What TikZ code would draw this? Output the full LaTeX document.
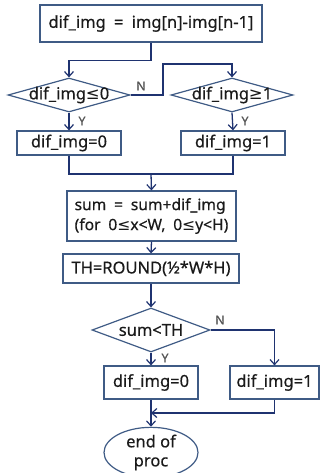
\documentclass[tikz,border=0pt]{standalone}
\usepackage{fontspec}
\setmainfont{Noto Sans}[FakeBold=0.5]
\newfontfamily\symf{DejaVu Sans}
\newcommand{\myle}{{\symf ≤}}
\newcommand{\myge}{{\symf ≥}}
\usetikzlibrary{shapes.geometric,arrows.meta}
\definecolor{boxc}{HTML}{3F5B85}
\definecolor{arrc}{HTML}{1F3370}
\definecolor{txtc}{HTML}{1A1A1A}
\definecolor{lblc}{HTML}{555555}
\begin{document}
\begin{tikzpicture}[x=1pt,y=-1pt,
  font=\fontsize{16.5}{19}\selectfont, text=txtc,
  rbox/.style={draw=boxc,line width=1.2pt,rectangle,inner sep=0pt},
  dbox/.style={draw=boxc,line width=1.2pt,diamond,inner sep=0pt},
  ebox/.style={draw=boxc,line width=1.2pt,ellipse,inner sep=0pt},
  con/.style={draw=arrc,line width=1.3pt},
  arr/.style={con,-{Straight Barb[length=5pt,width=9pt,line width=1.2pt]}},
  lbl/.style={text=lblc,font=\fontsize{12.5}{13}\selectfont,inner sep=1pt}]
\useasboundingbox (0,0) rectangle (320,473);
\node[rbox,minimum width=222pt,minimum height=37pt] (b1) at (151,23.5) {dif\_img\enspace=\enspace img[n]-img[n-1]};
\node[dbox,minimum width=122pt,minimum height=34pt,label={center:dif\_img\myle0}] (d1) at (69,95) {};
\node[dbox,minimum width=122pt,minimum height=34pt,label={center:dif\_img\myge1}] (d2) at (232,95) {};
\node[rbox,minimum width=104pt,minimum height=24pt] (b2) at (69,143) {dif\_img=0};
\node[rbox,minimum width=104pt,minimum height=24pt] (b3) at (233,143) {dif\_img=1};
\node[rbox,minimum width=169pt,minimum height=50pt,align=left,font=\fontsize{15.6}{20}\selectfont] (b4) at (151.5,216) {sum\enspace=\enspace sum+dif\_img\\(for\enspace0\myle x<W,\enspace0\myle y<H)};
\node[rbox,minimum width=176pt,minimum height=29pt] (b5) at (151,268.5) {TH=ROUND(½*W*H)};
\node[dbox,minimum width=118pt,minimum height=44pt,label={center:sum<TH}] (d3) at (151,330) {};
\node[rbox,minimum width=94pt,minimum height=33pt] (b6) at (151,382.5) {dif\_img=0};
\node[rbox,minimum width=89pt,minimum height=33pt] (b7) at (274.5,382.5) {dif\_img=1};
\node[ebox,minimum width=94pt,minimum height=39pt,align=center,font=\fontsize{16.5}{19}\selectfont] (e) at (151,452.5) {end of\\proc};
\coordinate (j1) at (163,64);
\coordinate (m1) at (151,174);
\coordinate (m2) at (151,413);
\draw[arr] (b1.south) -- ++(0,18) -| (d1.north);
\draw[arr] (d1.east) -| (j1) -| (d2.north);
\node[lbl] (n1) at (141,86) {N};
\draw[arr] (d1.south) -- (b2.north);
\node[lbl] (y1) at (82,121) {Y};
\draw[arr] (d2.south) -- (b3.north);
\node[lbl] (y2) at (245,121) {Y};
\draw[con] (b2.south) |- (m1);
\draw[con] (b3.south) |- (m1);
\draw[arr] (m1) -- (b4.north);
\draw[arr] (b4.south) -- (b5.north);
\draw[arr] (b5.south) -- (d3.north);
\draw[arr] (d3.east) -| (b7.north);
\node[lbl] (n2) at (220,320) {N};
\draw[arr] (d3.south) -- (b6.north);
\node[lbl] (y3) at (165,358) {Y};
\draw[arr] (b6.south) -- (e.north);
\draw[arr] (b7.south) |- (m2);
\end{tikzpicture}
\end{document}
